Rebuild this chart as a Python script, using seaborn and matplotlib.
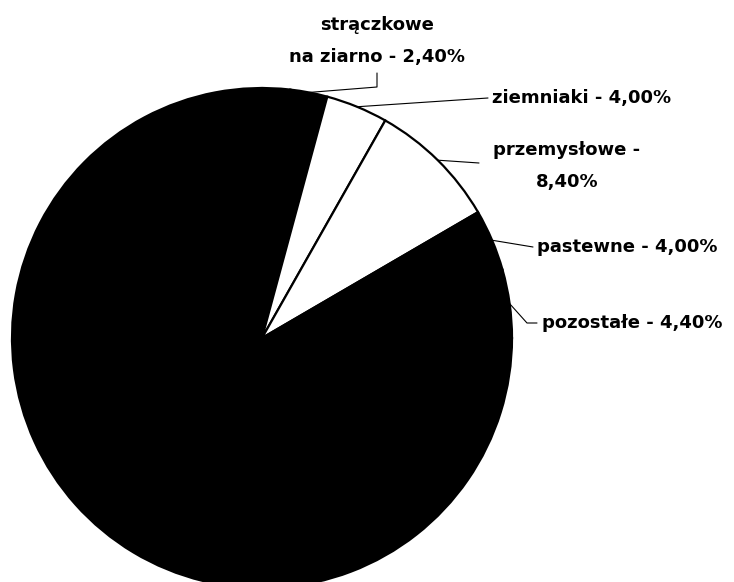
import numpy as np
import matplotlib
matplotlib.use("Agg")
import matplotlib.pyplot as plt
import seaborn as sns

# udział upraw (%) - pierwszy wycinek to strączkowe, ostatni duży bez opisu
labels = ["strączkowe\nna ziarno - 2,40%", "ziemniaki - 4,00%", "przemysłowe -\n8,40%",
          "pastewne - 4,00%", "pozostałe - 4,40%", ""]
values = [2.4, 4.0, 8.4, 4.0, 4.4, 76.8]
colors = ["black", "white", "white", "black", "black", "black"]

sns.set_theme(style="white")
plt.rcParams["font.family"] = ["DejaVu Sans"]

W, H = 734, 582
fig = plt.figure(figsize=(W / 100, H / 100), dpi=100)
ax = fig.add_axes([0, 0, 1, 1])

cx, cy, r = 262, H - 338, 250
wedges, _ = ax.pie(values, colors=colors, startangle=83.5, counterclock=False,
                   center=(cx, cy), radius=r, frame=True,
                   wedgeprops=dict(edgecolor="black", linewidth=1.6))
ax.set_xlim(0, W)
ax.set_ylim(0, H)
ax.set_aspect("equal")
ax.axis("off")

# pozycje tekstu i załamań linii (piksele, y od góry)
text_pos = [(377, 41, "center"), (492, 98, "left"), (567, 166, "center"),
            (537, 247, "left"), (542, 323, "left")]
elbows = [[(377, 87), (377, 73)], [(488, 98)], [(479, 163)],
          [(533, 247)], [(527, 323), (537, 323)]]

for w, lab, (tx, ty, ha), elb in zip(wedges, labels, text_pos, elbows):
    mid = np.deg2rad((w.theta1 + w.theta2) / 2)
    ex, ey = cx + r * np.cos(mid), cy + r * np.sin(mid)
    xs = [ex] + [p[0] for p in elb]
    ys = [ey] + [H - p[1] for p in elb]
    ax.plot(xs, ys, color="black", lw=0.8)
    ax.text(tx, H - ty, lab, ha=ha, va="center", fontsize=13, fontweight="bold",
            color="black", linespacing=2.0, multialignment="center")

fig.savefig("out.png", dpi=100)
